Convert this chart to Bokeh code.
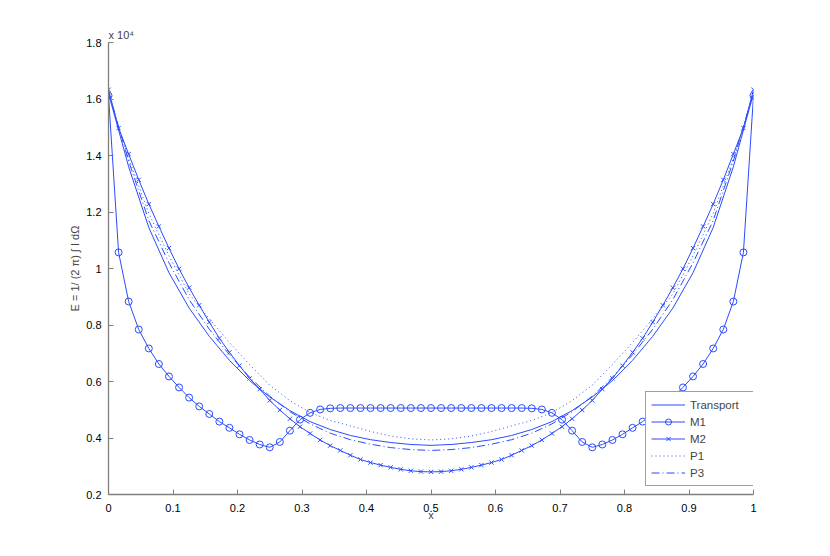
import numpy as np
from bokeh.plotting import figure
from bokeh.models import Range1d, FixedTicker, NumeralTickFormatter, Legend, LegendItem
from bokeh.embed import file_html
from bokeh.resources import INLINE

# values are in units of 10^4 (as on the axis)
x_fine = np.linspace(0, 1, 33)     # sample positions of the smooth curves
x_mark = np.linspace(0, 1, 65)     # sample positions of the marker curves

transport = [1.620, 1.360, 1.145, 0.985, 0.860, 0.760, 0.675, 0.603, 0.545, 0.497, 0.458,
             0.430, 0.409, 0.394, 0.384, 0.377, 0.374,
             0.377, 0.384, 0.394, 0.409, 0.430, 0.458, 0.497, 0.545, 0.603, 0.675,
             0.760, 0.860, 0.985, 1.145, 1.360, 1.620]

p1 = [1.615, 1.390, 1.195, 1.045, 0.910, 0.822, 0.738, 0.660, 0.587, 0.532, 0.490,
      0.462, 0.443, 0.423, 0.407, 0.397, 0.393,
      0.397, 0.407, 0.423, 0.443, 0.462, 0.490, 0.532, 0.587, 0.660, 0.738,
      0.822, 0.910, 1.045, 1.195, 1.390, 1.615]

p3 = [1.625, 1.380, 1.170, 1.020, 0.890, 0.785, 0.695, 0.615, 0.548, 0.493, 0.450,
      0.417, 0.394, 0.378, 0.366, 0.359, 0.356,
      0.359, 0.366, 0.378, 0.394, 0.417, 0.450, 0.493, 0.548, 0.615, 0.695,
      0.785, 0.890, 1.020, 1.170, 1.380, 1.625]

m1 = [1.612, 1.057, 0.883, 0.784, 0.717, 0.662, 0.618, 0.579, 0.543, 0.512, 0.485,
      0.458, 0.436, 0.413, 0.393, 0.377, 0.367, 0.386, 0.426, 0.465, 0.489, 0.501,
      0.505, 0.506, 0.506, 0.506, 0.506, 0.506, 0.506, 0.506, 0.506, 0.506, 0.506,
      0.506, 0.506, 0.506, 0.506, 0.506, 0.506, 0.506, 0.506, 0.506, 0.505, 0.501,
      0.489, 0.465, 0.426, 0.386, 0.367, 0.377, 0.393, 0.413, 0.436, 0.458, 0.485,
      0.512, 0.543, 0.579, 0.618, 0.662, 0.717, 0.784, 0.883, 1.057, 1.612]

m2 = [1.633, 1.497, 1.405, 1.314, 1.228, 1.149, 1.072, 0.999, 0.932, 0.870, 0.810,
      0.753, 0.703, 0.656, 0.611, 0.573, 0.533, 0.499, 0.468, 0.440, 0.416, 0.393,
      0.373, 0.356, 0.339, 0.324, 0.313, 0.304, 0.296, 0.289, 0.284, 0.281, 0.280,
      0.281, 0.284, 0.289, 0.296, 0.304, 0.313, 0.324, 0.339, 0.356, 0.373, 0.393,
      0.416, 0.440, 0.468, 0.499, 0.533, 0.573, 0.611, 0.656, 0.703, 0.753, 0.810,
      0.870, 0.932, 0.999, 1.072, 1.149, 1.228, 1.314, 1.405, 1.497, 1.633]

x_ticks = [0, 0.1, 0.2, 0.3, 0.4, 0.5, 0.6, 0.7, 0.8, 0.9, 1]
y_ticks = [0.2, 0.4, 0.6, 0.8, 1, 1.2, 1.4, 1.6, 1.8]

FONT = "Liberation Sans"
BLUE = "#2a4bff"
AXC = "#7f7f7f"

p = figure(width=828, height=554, output_backend="svg", toolbar_location=None,
           x_range=Range1d(0, 1), y_range=Range1d(0.2, 1.8),
           min_border_left=108, min_border_right=75, min_border_top=42, min_border_bottom=60)
p.outline_line_color = None
p.background_fill_color = "white"
p.border_fill_color = "white"
p.xgrid.visible = False
p.ygrid.visible = False

p.title.text = "x 10\u2074"
p.title.text_font = FONT
p.title.text_font_size = "11px"
p.title.text_font_style = "normal"
p.title.align = "left"
p.title.standoff = 4

for ax in (p.xaxis[0], p.yaxis[0]):
    ax.axis_line_color = AXC
    ax.axis_line_width = 1.3
    ax.major_tick_line_color = AXC
    ax.major_tick_in = 5
    ax.major_tick_out = 0
    ax.minor_tick_line_color = None
    ax.major_label_text_font = FONT
    ax.major_label_text_font_size = "11px"
    ax.major_label_text_color = "black"
    ax.axis_label_text_font = FONT
    ax.axis_label_text_font_size = "11px"
    ax.axis_label_text_font_style = "normal"
    ax.formatter = NumeralTickFormatter(format="0.[0]")

p.xaxis[0].ticker = FixedTicker(ticks=x_ticks)
p.yaxis[0].ticker = FixedTicker(ticks=y_ticks)
p.xaxis[0].major_label_standoff = 9
p.yaxis[0].major_label_standoff = 7
p.xaxis[0].axis_label = "x"
p.xaxis[0].axis_label_standoff = -6
p.yaxis[0].axis_label = "E = 1/ (2 \u03c0) \u222b I d\u03a9"
p.yaxis[0].axis_label_standoff = 2

r_t = p.line(x_fine, transport, line_color=BLUE, line_width=1)
r_m1l = p.line(x_mark, m1, line_color=BLUE, line_width=1)
r_m1s = p.scatter(x_mark, m1, marker="circle", size=7, line_color=BLUE, fill_color=None, line_width=1)
r_m2l = p.line(x_mark, m2, line_color=BLUE, line_width=1)
r_m2s = p.scatter(x_mark, m2, marker="x", size=6, line_color=BLUE, line_width=1)
r_p1 = p.line(x_fine, p1, line_color=BLUE, line_width=1, line_dash="1 3")
r_p3 = p.line(x_fine, p3, line_color=BLUE, line_width=1, line_dash="8 3 1 3")

legend = Legend(items=[
    LegendItem(label="Transport", renderers=[r_t]),
    LegendItem(label="M1", renderers=[r_m1l, r_m1s]),
    LegendItem(label="M2", renderers=[r_m2l, r_m2s]),
    LegendItem(label="P1", renderers=[r_p1]),
    LegendItem(label="P3", renderers=[r_p3]),
], location=(537, 8))
legend.margin = 0
legend.padding = 5
legend.spacing = 2
legend.glyph_height = 15
legend.label_height = 15
legend.glyph_width = 34
legend.label_standoff = 5
legend.label_width = 58
legend.label_text_font = FONT
legend.label_text_font_size = "11.5px"
legend.border_line_color = "#404040"
legend.border_line_width = 1
legend.background_fill_color = "white"
legend.background_fill_alpha = 1
p.add_layout(legend, "center")

open("out.html", "w").write(file_html(p, INLINE))
